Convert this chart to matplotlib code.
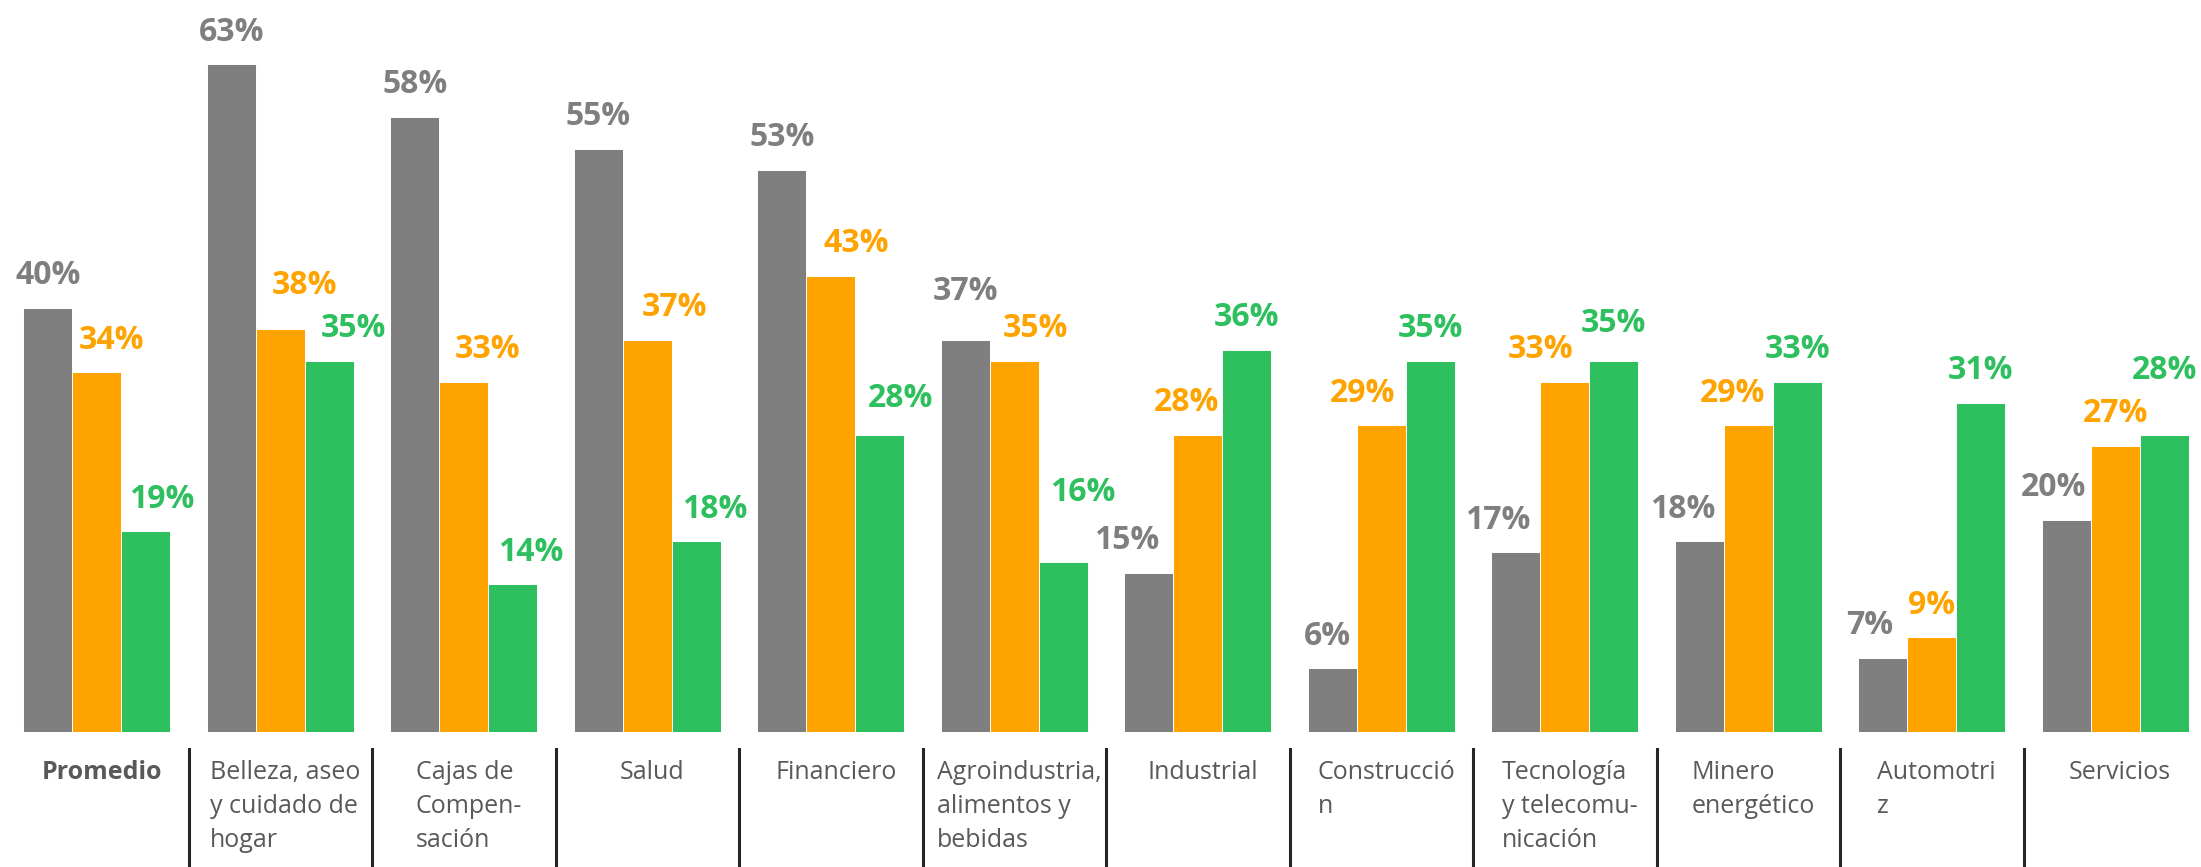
import matplotlib
matplotlib.use("Agg")
import matplotlib.pyplot as plt
from matplotlib.transforms import blended_transform_factory, offset_copy
from matplotlib.lines import Line2D
import numpy as np

plt.rcParams['font.family'] = ['Open Sans', 'DejaVu Sans']

categories = ["Promedio", "Belleza, aseo\ny cuidado de\nhogar", "Cajas de\nCompen-\nsación", "Salud",
              "Financiero", "Agroindustria,\nalimentos y\nbebidas", "Industrial", "Construcció\nn",
              "Tecnología\ny telecomu-\nnicación", "Minero\nenergético", "Automotri\nz", "Servicios"]
serie_gris = [40, 63, 58, 55, 53, 37, 15, 6, 17, 18, 7, 20]
serie_naranja = [34, 38, 33, 37, 43, 35, 28, 29, 33, 29, 9, 27]
serie_verde = [19, 35, 14, 18, 28, 16, 36, 35, 35, 33, 31, 28]

# label placement tweaks (pixels): horizontal shift and gap above bar
dx_gris = [0, 0, 0, 0, 0, 0, -22, -5, -18, -16, -13, -13]
gap_gris = [24, 23, 24, 24, 24, 40, 24, 23, 23, 23, 24, 24]
dx_naranja = [15, 24, 24, 27, 26, 21, -11, -19, -24, -16, 0, 0]
gap_naranja = [23, 35, 24, 24, 24, 24, 24, 23, 24, 23, 23, 24]
dx_verde = [16, 24, 18, 19, 21, 19, 0, 0, 0, 0, 0, 0]
gap_verde = [23, 24, 23, 23, 28, 61, 24, 24, 29, 24, 24, 56]

colors = ["#7F7F7F", "#FFA300", "#2EBF5F"]
W, H = 2201, 867
fig = plt.figure(figsize=(W / 100, H / 100), dpi=100)
fig.patch.set_facecolor("white")

pitch = 183.5
left_px = 5
bottom_px = H - 732
ax = fig.add_axes([left_px / W, bottom_px / H, (W - left_px) / W, (H - bottom_px) / H])
ax.set_xlim(-0.5, -0.5 + (W - left_px) / pitch)
ax.set_ylim(0, (H - bottom_px) / 10.6)
ax.axis("off")

x = np.arange(len(categories))
bw = 49 / pitch
series = [serie_gris, serie_naranja, serie_verde]
dxs = [dx_gris, dx_naranja, dx_verde]
gaps = [gap_gris, gap_naranja, gap_verde]
px2pt = 72 / 100
for k, (vals, col) in enumerate(zip(series, colors)):
    pos = x + (k - 1) * bw
    ax.bar(pos, vals, width=bw, color=col, edgecolor="white", linewidth=0.7)
    for j, (xi, v) in enumerate(zip(pos, vals)):
        ax.annotate(f"{v}%", xy=(xi, v), xytext=(dxs[k][j] * px2pt, gaps[k][j] * px2pt),
                    textcoords="offset points", ha="center", va="baseline",
                    fontsize=23, fontweight="bold", color=col)

# category labels
ytop = 1 - 760 / H
tr = blended_transform_factory(ax.transData, fig.transFigure)
for i, c in enumerate(categories):
    ax.text(i + 5 / pitch, ytop, c, transform=tr, ha="center", va="top", multialignment="left",
            fontsize=18, color="#595959", linespacing=1.48,
            fontweight="bold" if i == 0 else "normal")

# separators
for i in range(len(categories) - 1):
    xs = i + 0.5
    ln = Line2D([xs, xs], [1 - 749 / H, 0], transform=tr, color="#262626", linewidth=2.2, clip_on=False)
    fig.add_artist(ln)

fig.savefig("out.png", dpi=100, facecolor="white")
